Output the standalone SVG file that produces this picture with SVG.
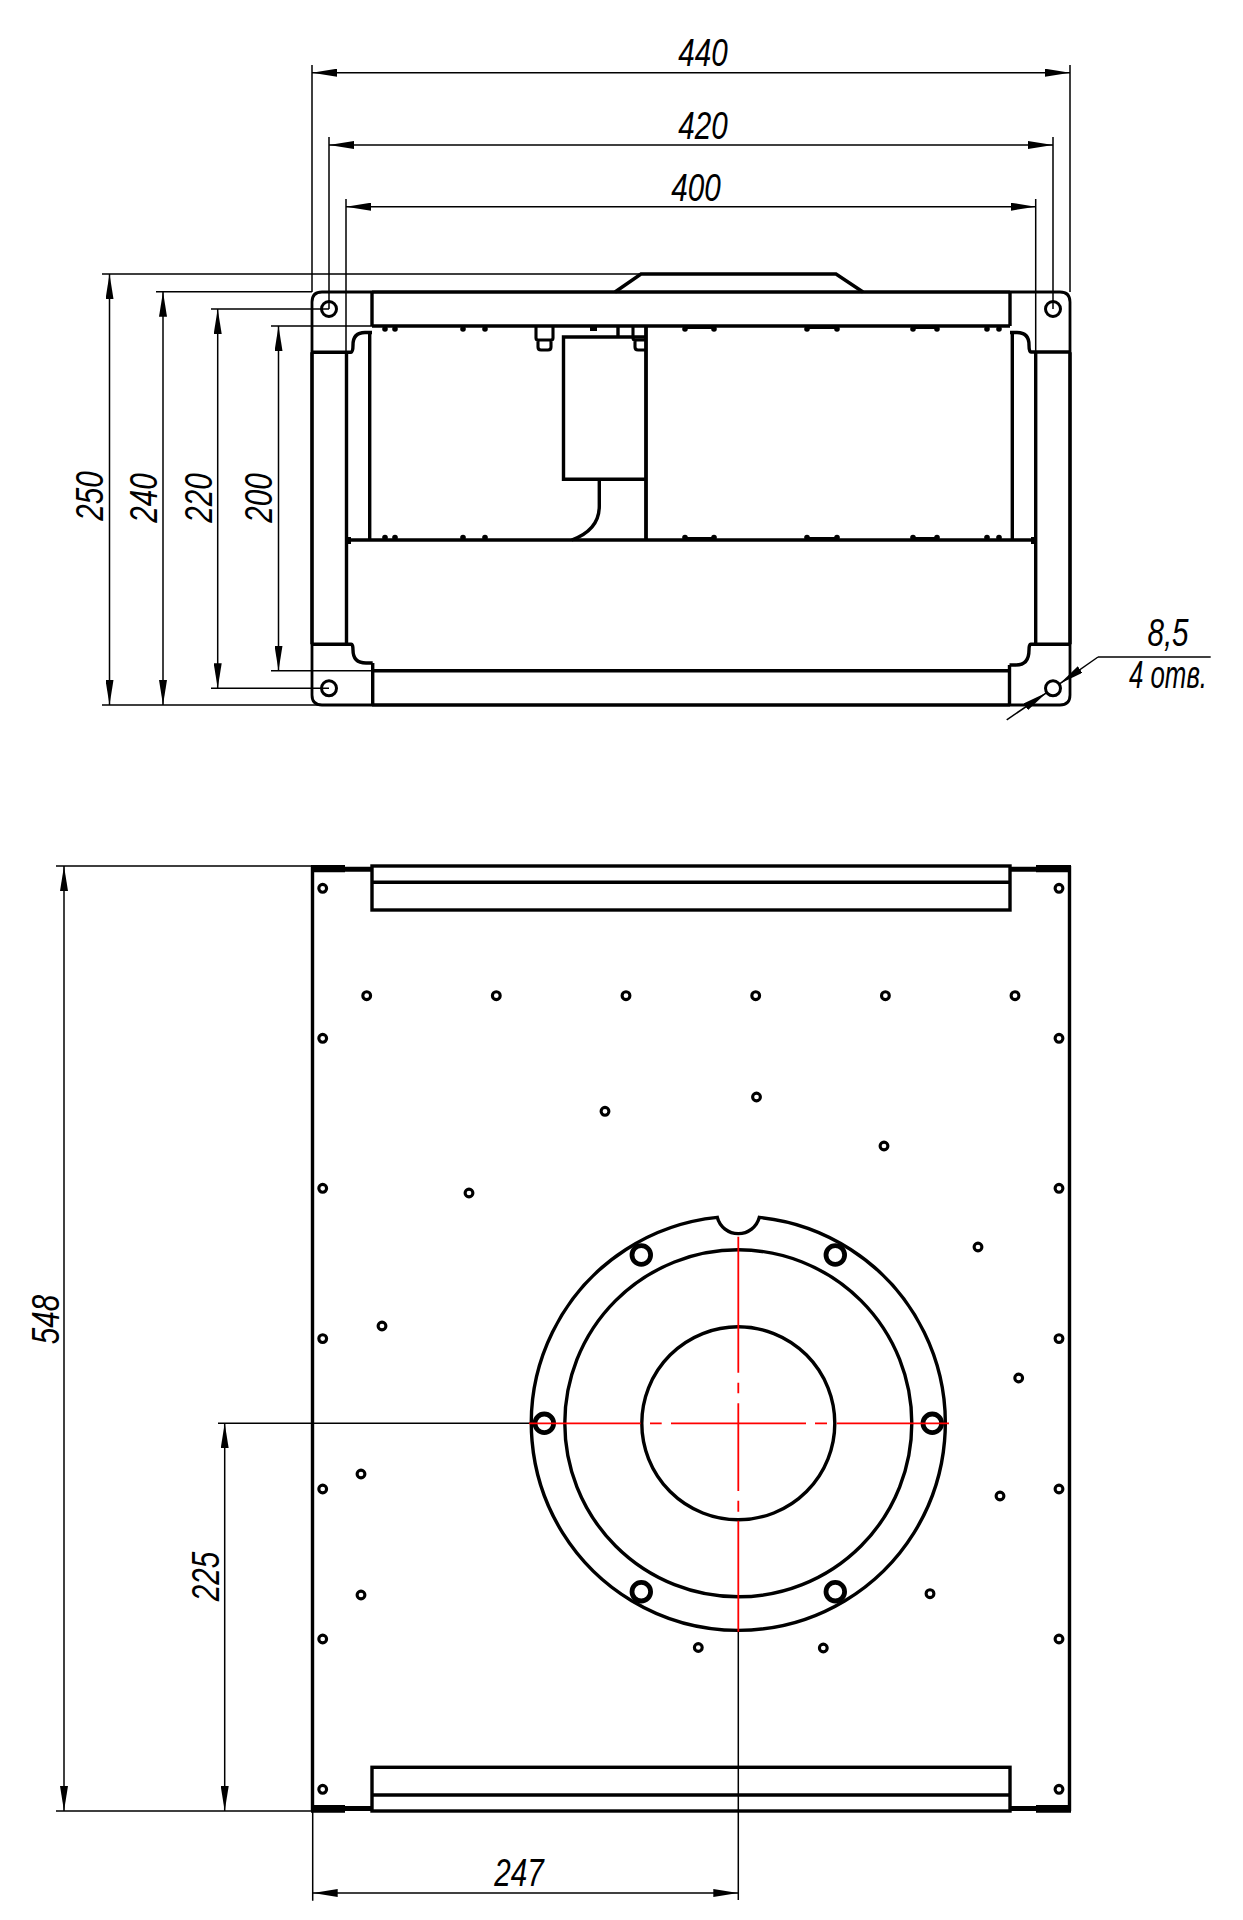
<svg xmlns="http://www.w3.org/2000/svg" width="1243" height="1920" viewBox="0 0 1243 1920">
<style>
.m{fill:none;stroke:#000;stroke-width:3.4}
.c{fill:none;stroke:#000;stroke-width:2.8}
.t{fill:none;stroke:#000;stroke-width:1.5}
.d{fill:none;stroke:#000;stroke-width:1.5;marker-start:url(#a);marker-end:url(#a)}
.h{fill:none;stroke:#000;stroke-width:3}
.s{fill:none;stroke:#000;stroke-width:3.1}
.b{fill:none;stroke:#000;stroke-width:4.8}
.r{fill:none;stroke:#f00;stroke-width:1.8}
.x{font-family:"Liberation Sans",Arial,sans-serif;font-style:italic;font-size:38px;text-anchor:middle;fill:#000}
.f{fill:#000}
</style>
<defs>
<marker id="a" markerUnits="userSpaceOnUse" markerWidth="25" markerHeight="8" refX="25" refY="4" orient="auto-start-reverse"><path d="M0,0L25,4L0,8z" fill="#000"/></marker>
<g id="n"><circle cx="0" cy="0" r="2.8" fill="#000"/></g>
</defs>
<rect width="1243" height="1920" fill="#fff"/>

<g id="top-view">
<path class="c" d="M372,292H322Q312,292 312,302V695Q312,705 322,705H372"/>
<path class="c" d="M1010,292H1060Q1070,292 1070,302V695Q1070,705 1060,705H1010"/>
<path class="m" d="M312,352.3V644.3M1070,352.3V644.3"/>
<path class="m" d="M372,292H1010"/>
<path class="m" d="M615,292L641,274H836L863,292"/>
<path class="m" d="M372,326H1010"/>
<path class="m" d="M372.7,670.7H1009.5M372,705H1010"/>
<path class="m" d="M347,540H1036"/>
<path class="m" d="M372,292V326M1010,292V326M372.7,663V705M1009.5,665V705"/>
<path class="m" d="M312,352.3H351Q353,352 353,345Q353,332.5 365,332.5H372"/>
<path class="m" d="M1070,352H1031Q1029,352 1029,345Q1029,332.5 1017,332.5H1010"/>
<path class="m" d="M312,644.3H351Q353,644 353,650Q353,663 366,663H372.7"/>
<path class="m" d="M1070,644.3H1031Q1029,644 1029,650Q1029,665 1016,665H1009.5"/>
<path class="m" d="M346.5,352V644M1035.7,352V644M369.7,332V540M1012.3,332V540"/>
<rect class="f" x="345" y="537" width="6" height="7"/><rect class="f" x="1031" y="537" width="6" height="7"/>
<path class="m" style="stroke-width:3.8" d="M646,326V540"/>
<path class="m" d="M646,337H563.5V479.3H646M618,326V337"/>
<path class="m" d="M599.3,479V506Q599.3,530 571.7,540"/>
<path class="s" d="M536,326V338Q536,340 538,340V347Q538,350 541,350H548Q551,350 551,347V340Q553,340 553,338V326M538,340H551"/>
<path class="s" d="M633,326V338Q633,340 635,340V347Q635,350 638,350H646M635,340H646"/>
<rect class="f" x="590" y="326" width="7" height="5"/>
<use href="#n" x="385" y="329"/><use href="#n" x="395" y="329"/><use href="#n" x="463" y="329"/><use href="#n" x="485" y="329"/>
<use href="#n" x="685" y="329"/><use href="#n" x="714" y="329"/><use href="#n" x="807" y="329"/><use href="#n" x="837" y="329"/><use href="#n" x="913" y="329"/><use href="#n" x="937" y="329"/><use href="#n" x="987" y="329"/><use href="#n" x="999" y="329"/>
<use href="#n" x="385" y="537.5"/><use href="#n" x="395" y="537.5"/><use href="#n" x="463" y="537.5"/><use href="#n" x="485" y="537.5"/>
<use href="#n" x="685" y="537.5"/><use href="#n" x="714" y="537.5"/><use href="#n" x="807" y="537.5"/><use href="#n" x="837" y="537.5"/><use href="#n" x="913" y="537.5"/><use href="#n" x="937" y="537.5"/><use href="#n" x="987" y="537.5"/><use href="#n" x="999" y="537.5"/>
<path class="t" style="stroke-width:2" d="M685,328H714M807,328H837M913,328H937M685,538H714M807,538H837M913,538H937"/>
<circle class="h" cx="329" cy="309" r="7.5"/><circle class="h" cx="1053" cy="309" r="7.5"/><circle class="h" cx="329" cy="688.3" r="7.5"/><circle class="h" cx="1053" cy="688.3" r="7.5"/>
</g>

<g id="bottom-view">
<path class="m" d="M312.5,866V1811M1069.5,866V1811"/>
<rect class="m" x="372" y="866" width="638" height="44"/>
<path class="m" d="M372,882.3H1010"/>
<rect class="m" x="372" y="1767.3" width="638" height="43.7"/>
<path class="m" d="M372,1795H1010"/>
<path class="f" d="M311,865H345V866.7H372V871.7H345V872.3H311zM1071,865H1036V866.7H1010V871.7H1036V872.3H1071zM311,1805H345V1806H372V1811H345V1812.7H311zM1071,1805H1036V1806H1010V1811H1036V1812.7H1071z"/>
<g class="s">
<circle cx="322.7" cy="888.3" r="3.9"/><circle cx="322.7" cy="1038.3" r="3.9"/><circle cx="322.7" cy="1188.3" r="3.9"/><circle cx="322.7" cy="1338.6" r="3.9"/><circle cx="322.7" cy="1489" r="3.9"/><circle cx="322.7" cy="1639" r="3.9"/><circle cx="322.7" cy="1789.3" r="3.9"/>
<circle cx="1059" cy="888.3" r="3.9"/><circle cx="1059" cy="1038.3" r="3.9"/><circle cx="1059" cy="1188.3" r="3.9"/><circle cx="1059" cy="1338.6" r="3.9"/><circle cx="1059" cy="1489" r="3.9"/><circle cx="1059" cy="1639" r="3.9"/><circle cx="1059" cy="1789.3" r="3.9"/>
<circle cx="366.7" cy="995.7" r="3.9"/><circle cx="496.3" cy="995.7" r="3.9"/><circle cx="626" cy="995.7" r="3.9"/><circle cx="755.7" cy="995.7" r="3.9"/><circle cx="885.4" cy="995.7" r="3.9"/><circle cx="1015" cy="995.7" r="3.9"/>
<circle cx="756.5" cy="1097" r="3.9"/><circle cx="605" cy="1111.3" r="3.9"/><circle cx="884" cy="1146" r="3.9"/><circle cx="469" cy="1193" r="3.9"/><circle cx="978" cy="1247" r="3.9"/><circle cx="382" cy="1326" r="3.9"/><circle cx="1018.7" cy="1378" r="3.9"/><circle cx="361" cy="1474" r="3.9"/><circle cx="1000" cy="1496" r="3.9"/><circle cx="361" cy="1595" r="3.9"/><circle cx="930" cy="1593.7" r="3.9"/><circle cx="698.3" cy="1647.5" r="3.9"/><circle cx="823.3" cy="1648" r="3.9"/>
</g>
<path class="m" d="M717.3,1217.4A207,207 0 1 0 759.3,1217.4A21.7,21.7 0 0 1 717.3,1217.4z"/>
<circle class="m" cx="738.3" cy="1423.3" r="173.5"/>
<circle class="m" cx="738.3" cy="1423.3" r="96.5"/>
<circle class="b" cx="641.3" cy="1255" r="9.3"/><circle class="b" cx="835.3" cy="1255" r="9.3"/><circle class="b" cx="544.3" cy="1423.3" r="9.3"/><circle class="b" cx="932.3" cy="1423.3" r="9.3"/><circle class="b" cx="641.3" cy="1591.7" r="9.3"/><circle class="b" cx="835.3" cy="1591.7" r="9.3"/>
</g>

<g id="connectors">
<path class="t" d="M312,65V292M1070,65V292M329,137V309M1053,137V309M346,199V352M1035.7,199V352"/>
<path class="t" d="M102,274H641M156,291.7H312M211,309H329M271,326H372M271,670.7H372.7M211,688.3H329M102,705H322"/>
<path class="d" d="M312,72.7H1070"/>
<path class="d" d="M329,145H1053"/>
<path class="d" d="M346,206.7H1035.7"/>
<path class="d" d="M109.5,274V705"/>
<path class="d" d="M163,291.7V705"/>
<path class="d" d="M217.7,309V688.3"/>
<path class="d" d="M278.5,326V670.7"/>
<path class="t" d="M1006.7,719.8L1046.4,692.8" marker-end="url(#a)"/>
<path class="t" d="M1098,657L1059.6,683.8" marker-end="url(#a)"/>
<path class="t" d="M1098,657H1210.7"/>
<path class="t" d="M56,866H312M56,1811H312M218,1423.3H530M738.3,1631V1900M312.7,1811V1900.7"/>
<path class="d" d="M64,866V1811"/>
<path class="d" d="M224.7,1423.3V1811"/>
<path class="d" d="M312.7,1893H738.3"/>
<path class="r" d="M529,1423.3H640.7M650,1423.3H661.7M671,1423.3H806M815,1423.3H827M836.7,1423.3H949M738.3,1236.7V1372.7M738.3,1382.7V1393.3M738.3,1403.3V1491M738.3,1500.7V1511.7M738.3,1520.7V1631.7"/>
</g>

<g id="labels">
<text class="x" transform="translate(703,66) scale(.78,1)">440</text>
<text class="x" transform="translate(703,139) scale(.78,1)">420</text>
<text class="x" transform="translate(696,200.7) scale(.78,1)">400</text>
<text class="x" transform="translate(103,496) rotate(-90) scale(.78,1)">250</text>
<text class="x" transform="translate(156.7,498) rotate(-90) scale(.78,1)">240</text>
<text class="x" transform="translate(212,498) rotate(-90) scale(.78,1)">220</text>
<text class="x" transform="translate(272,498) rotate(-90) scale(.78,1)">200</text>
<text class="x" transform="translate(1168,646) scale(.78,1)">8,5</text>
<text class="x" transform="translate(1168,688.3) scale(.68,1)">4 отв.</text>
<text class="x" transform="translate(58.7,1319.5) rotate(-90) scale(.78,1)">548</text>
<text class="x" transform="translate(219,1576.5) rotate(-90) scale(.78,1)">225</text>
<text class="x" transform="translate(519,1886) scale(.78,1)">247</text>
</g>
</svg>
